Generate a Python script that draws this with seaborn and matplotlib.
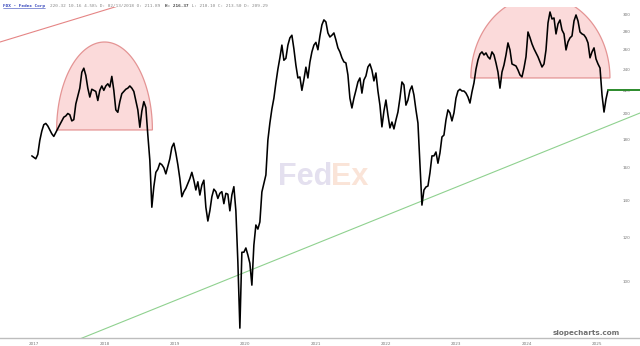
import numpy as np
import pandas as pd
import matplotlib
matplotlib.use("Agg")
import matplotlib.pyplot as plt
import matplotlib.dates as mdates
from matplotlib.lines import Line2D
from matplotlib.ticker import NullLocator
import seaborn as sns

# ---------------- data ----------------
prices = [
    168, 167, 166, 169, 179, 186, 191, 192, 190, 187, 184, 182, 185, 188, 191, 194, 197, 198, 200, 199,
    194, 195, 208, 215, 222, 237, 241, 234, 222, 214, 221, 220, 219, 211, 220, 224, 220, 224, 226, 223,
    233, 220, 203, 201, 210, 217, 219, 221, 222, 224, 222, 219, 211, 203, 189, 202, 210, 205, 183, 165,
    136, 148, 157, 159, 163, 162, 160, 156, 161, 166, 174, 177, 170, 162, 153, 142, 145, 147, 150, 153,
    157, 152, 146, 151, 143, 149, 152, 136, 128.5, 134, 142, 146.5, 145, 141, 144, 145, 138, 144, 143.5, 134,
    143, 148, 134, 108.5, 82.7, 113, 113, 115, 111.7, 108, 98.7, 116.4, 126.4, 124.3, 128, 144.8, 150, 155.3, 179.3, 192.3,
    203.7, 213, 226.8, 240, 251.5, 265, 249, 251, 265, 273, 276, 261, 244, 231.5, 232.5, 220, 230, 242, 231.5, 247,
    257.7, 265, 268, 260, 275, 288, 294, 291.5, 278.6, 274, 276, 278.6, 270.7, 262, 257.7, 251.5, 247.3, 246.3, 234.4, 213,
    204.6, 213, 220, 227.7, 231.5, 217.5, 229.6, 233.4, 242.2, 245.2, 239, 228.7, 236.3, 219.4, 207, 189.3, 202, 211.4, 198.8, 188.5,
    193.1, 187.7, 194.7, 201.2, 213, 227.7, 225, 207, 211.4, 220, 224, 215.8, 203, 192.3, 161.8, 137.2, 146, 147.8, 148.4, 156.6,
    168, 168, 170.7, 163, 170, 181.6, 183, 194.7, 203, 200.5, 194, 200.5, 213, 219.4, 221, 219.4, 219.4, 217.5, 214, 208.8,
    218.5, 226.8, 240, 249.3, 255.5, 257.7, 254.5, 256.6, 252.5, 250.3, 257.7, 254.5, 246.3, 237.2, 222, 237.2, 244.2, 254.5, 267.4, 259.8,
    245.2, 244.2, 243.2, 239.2, 234.4, 232.5, 241.2, 252.5, 279.7, 273.3, 266.3, 261, 256.6, 252.5, 247.3, 242.2, 245.2, 259.8, 290.3, 303.7,
    295.1, 296.3, 277.5, 289.1, 293.9, 282, 277.5, 259.8, 268.6, 273, 275.2, 292.7, 300, 292.7, 279.7, 277.5, 276.3, 273, 267.4, 251.5,
    257.7, 262, 250.3, 245.2, 241.2, 215.8, 201.2, 212.3, 220.3,
]
first_date = "2016-12-20"
last_date = "2025-02-27"
last_price = 220.3

y_ticks = [100, 120, 140, 160, 180, 200, 220, 240, 260, 280, 300]
x_years = [2017, 2018, 2019, 2020, 2021, 2022, 2023, 2024, 2025]

# annotations (dates / prices)
hump1 = ("2017-04-28", "2018-09-07", 186.9, 268.4)
hump2 = ("2023-03-18", "2025-03-09", 231.5, 324.4)
red_trend = (("2016-07-08", 268.4), ("2018-10-16", 328.0))
green_trend = (("2017-07-06", 77.8), ("2025-08-12", 200.4))
header_ticker = "FDX - Fedex Corp"
header_rest = "220.32 10.16 4.58% D: 02/13/2018 O: 211.89 "
header_bold = "H: 216.37"
header_tail = " L: 210.10 C: 213.50 D: 209.29"

dates = pd.date_range(first_date, last_date, periods=len(prices))
df = pd.DataFrame({"date": dates, "close": prices})

# ---------------- figure ----------------
sns.set_style("white")
plt.rcParams["font.family"] = ["DejaVu Sans"]
W, H = 640, 346
fig = plt.figure(figsize=(6.4, 3.46), dpi=100)
ax = fig.add_axes([0, 8 / H, 1, 331 / H])
ax.set_facecolor("white")

ax.set_yscale("log")
ax.set_ylim(79.4, 310)
ax.set_xlim(pd.Timestamp("2016-07-08"), pd.Timestamp("2025-08-12"))

def tnum(d):
    return mdates.date2num(pd.Timestamp(d))

def draw_hump(h):
    d0, d1, base, peak = h
    x0, yb = ax.transData.transform((tnum(d0), base))
    x1, _ = ax.transData.transform((tnum(d1), base))
    _, yt = ax.transData.transform((tnum(d0), peak))
    t = np.linspace(0, np.pi, 240)
    cx, rx, ry = (x0 + x1) / 2, (x1 - x0) / 2, yt - yb
    pts = np.column_stack([cx + rx * np.cos(t), yb + ry * np.sin(t)])
    dd = ax.transData.inverted().transform(pts)
    ax.fill(dd[:, 0], dd[:, 1], facecolor="#fbdada", edgecolor="#e49494",
            lw=0.9, zorder=1)

draw_hump(hump1)
draw_hump(hump2)

# trend lines
(rd0, rp0), (rd1, rp1) = red_trend
ax.plot([pd.Timestamp(rd0), pd.Timestamp(rd1)], [rp0, rp1], color="#e58585", lw=0.8, zorder=2)
(gd0, gp0), (gd1, gp1) = green_trend
ax.plot([pd.Timestamp(gd0), pd.Timestamp(gd1)], [gp0, gp1], color="#8fd18f", lw=0.8, zorder=2)

# watermark
fig.text(278 / W, 1 - 185 / H, "Fed", fontsize=22, fontweight="bold",
         family="Liberation Sans", color="#e4e0ef", ha="left", va="baseline", zorder=0)
fig.text(331 / W, 1 - 185 / H, "Ex", fontsize=22, fontweight="bold",
         family="Liberation Sans", color="#fae4d8", ha="left", va="baseline", zorder=0)

# price line
sns.lineplot(data=df, x="date", y="close", ax=ax, color="black", lw=1.15, zorder=3)

# last price marker
ax.plot([pd.Timestamp(last_date), pd.Timestamp("2025-08-12")], [last_price, last_price],
        color="#2b8a2b", lw=1.4, zorder=4)

# axes styling
ax.yaxis.tick_right()
ax.set_yticks(y_ticks)
ax.set_yticklabels([str(v) for v in y_ticks])
ax.yaxis.set_minor_locator(NullLocator())
ax.tick_params(axis="y", length=0, pad=-12.5, labelsize=3, labelcolor="#777777")
for lab in ax.get_yticklabels():
    lab.set_horizontalalignment("left")
ax.set_xticks([pd.Timestamp(f"{y}-01-01") for y in x_years])
ax.set_xticklabels([str(y) for y in x_years])
ax.tick_params(axis="x", length=0, pad=3, labelsize=3, labelcolor="#777777")
ax.set_xlabel("")
ax.set_ylabel("")
for s in ["top", "left", "right"]:
    ax.spines[s].set_visible(False)
ax.spines["bottom"].set_color("#bdbdbd")
ax.spines["bottom"].set_linewidth(1.0)
ax.grid(False)

# header
fs = 3.2
cw = 0.602 * fs * 100 / 72  # monospace advance in px
hy = 1 - 6 / H
fig.text(3 / W, hy, header_ticker, fontsize=fs, color="#3344bb",
         family="DejaVu Sans Mono", fontweight="bold", va="center", ha="left")
fig.add_artist(Line2D([3 / W, 45 / W], [1 - 8.3 / H, 1 - 8.3 / H], color="#3344bb", lw=0.4))
x0 = 50
fig.text(x0 / W, hy, header_rest, fontsize=fs, color="#888888",
         family="DejaVu Sans Mono", va="center", ha="left")
x1 = x0 + len(header_rest) * cw
fig.text(x1 / W, hy, header_bold, fontsize=fs, color="#444444", fontweight="bold",
         family="DejaVu Sans Mono", va="center", ha="left")
x2 = x1 + len(header_bold) * cw
fig.text(x2 / W, hy, header_tail, fontsize=fs, color="#888888",
         family="DejaVu Sans Mono", va="center", ha="left")

# brand
fig.text(620 / W, 1 - 333 / H, "slopecharts.com", fontsize=5.2, fontweight="bold",
         color="#707070", ha="right", va="center")

fig.savefig("out.png", dpi=100)
